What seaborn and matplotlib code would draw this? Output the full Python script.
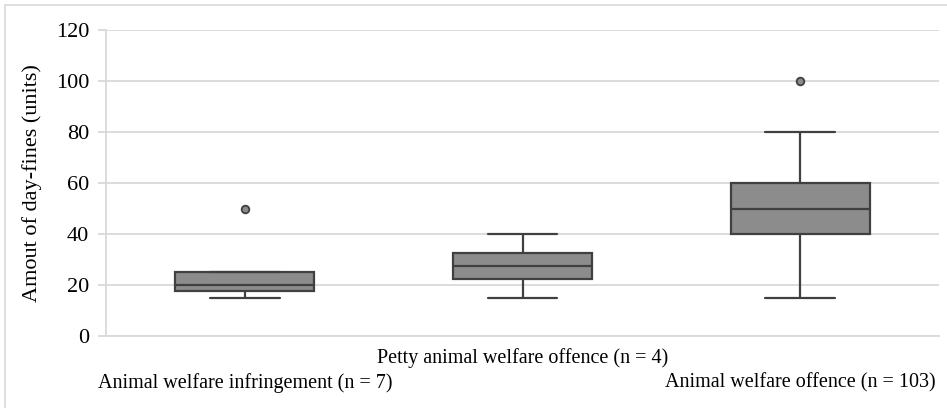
import numpy as np
import pandas as pd
import matplotlib
matplotlib.use("Agg")
import matplotlib.pyplot as plt
import seaborn as sns
from matplotlib.lines import Line2D

# data (day-fines per offence type)
cat_names = ["Animal welfare infringement (n = 7)",
             "Petty animal welfare offence (n = 4)",
             "Animal welfare offence (n = 103)"]
infringement = [15, 15, 20, 20, 25, 25, 50]
petty = [15, 25, 30, 40]
offence_values = [15, 20, 25, 30, 35, 40, 45, 50, 55, 60, 70, 75, 80, 100]
offence_counts = [3, 4, 5, 8, 5, 15, 8, 10, 8, 15, 12, 5, 4, 1]
offence = np.repeat(offence_values, offence_counts)

y_ticks = [0, 20, 40, 60, 80, 100, 120]

df = pd.DataFrame({
    "cat": [cat_names[0]] * len(infringement) + [cat_names[1]] * len(petty) + [cat_names[2]] * len(offence),
    "fines": list(infringement) + list(petty) + list(offence),
})

sns.set_theme(style="white")
plt.rcParams['font.family'] = ['Liberation Serif', 'DejaVu Serif']

fig = plt.figure(figsize=(9.47, 4.08), dpi=100)
ax = fig.add_axes([106 / 947, 1 - 336 / 408, (939 - 106) / 947, (336 - 30) / 408])

grid_col = "#d9d9d9"
edge_col = "#404040"
sns.boxplot(data=df, x="cat", y="fines", order=cat_names, ax=ax,
            color="#8c8c8c", linecolor=edge_col, linewidth=1.6, width=0.5,
            saturation=1,
            flierprops=dict(marker="o", markersize=5.5, markerfacecolor="#8c8c8c",
                            markeredgecolor=edge_col, markeredgewidth=1.3))

ax.set_ylim(0, 120)
ax.set_yticks(y_ticks)
ax.yaxis.grid(True, color=grid_col, linewidth=1.3)
ax.set_axisbelow(True)
for side in ["top", "right"]:
    ax.spines[side].set_visible(False)
for side in ["left", "bottom"]:
    ax.spines[side].set_color(grid_col)
    ax.spines[side].set_linewidth(1.3)

ax.tick_params(axis="y", direction="out", length=6, width=1.3, color=grid_col,
               labelsize=16, labelcolor="black", pad=6, left=True)
ax.tick_params(axis="x", length=0, labelsize=14.5, labelcolor="black", pad=9)

# staggered category labels
ax.set_xticks(range(3))
ax.set_xticklabels(["\n" + cat_names[0], cat_names[1], "\n" + cat_names[2]],
                   linespacing=1.4)
ax.set_xlabel("")
ax.set_ylabel("Amout of day-fines (units)", fontsize=16, color="black", labelpad=10)

# light frame around the figure (top and left edge visible)
fig.add_artist(Line2D([5 / 947, 1], [1 - 5 / 408, 1 - 5 / 408], color=grid_col, lw=1.2))
fig.add_artist(Line2D([5 / 947, 5 / 947], [0, 1 - 5 / 408], color=grid_col, lw=1.2))

fig.savefig("out.png", dpi=100)
